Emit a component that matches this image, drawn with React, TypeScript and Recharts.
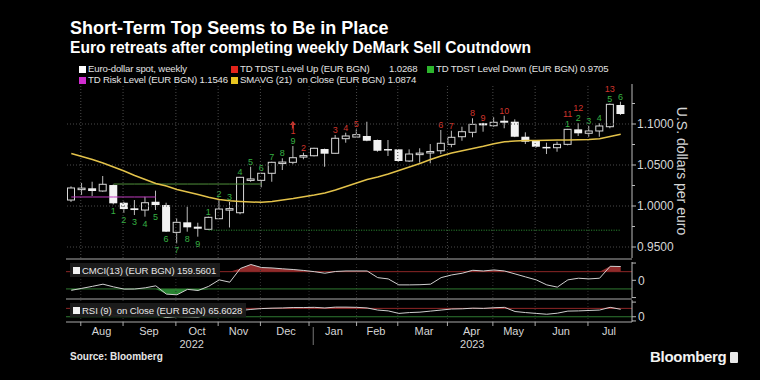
import {
  ComposedChart,
  Bar,
  Line,
  Area,
  XAxis,
  YAxis,
  ReferenceLine,
} from "recharts";

const FONT = '"Liberation Sans", Arial, sans-serif';
const TEXT = "#d6d6d6";
const GRID = "#4a4a4a";

// weekly EUR/USD candles, mid-Jul 2022 .. mid-Jul 2023
const OPEN = [
  1.0073, 1.0213, 1.0216, 1.0183, 1.0256, 1.004, 0.9972, 0.9951, 1.0052, 1.0012,
  0.9679, 0.9801, 0.9748, 0.9716, 0.9845, 0.996, 0.9918, 1.0326, 1.0313, 1.0399,
  1.053, 1.0533, 1.0609, 1.0613, 1.0695, 1.0643, 1.0821, 1.0841, 1.0854, 1.0805,
  1.0695, 1.0691, 1.0549, 1.064, 1.066, 1.0674, 1.0752, 1.0845, 1.0899, 1.1009,
  1.0979, 1.104, 1.1028, 1.0845, 1.0793, 1.0721, 1.0711, 1.0752, 1.0935, 1.0887,
  1.0915, 1.0967, 1.1232,
];
const HIGH = [
  1.024, 1.028, 1.0296, 1.0366, 1.0262, 1.0052, 1.0073, 1.0113, 1.0187, 1.004,
  0.985, 0.9991, 0.9796, 0.987, 1.0082, 1.0049, 1.0355, 1.0479, 1.0405, 1.054,
  1.0582, 1.0732, 1.065, 1.071, 1.07, 1.0866, 1.0894, 1.0935, 1.1028, 1.081,
  1.0805, 1.0695, 1.0691, 1.0704, 1.0756, 1.0927, 1.0918, 1.0967, 1.107, 1.1015,
  1.1082, 1.1101, 1.1057, 1.0899, 1.08, 1.0772, 1.0784, 1.094, 1.1009, 1.0976,
  1.1009, 1.125, 1.1272,
];
const LOW = [
  1.005, 1.0134, 1.0122, 1.0174, 1.002, 0.9915, 0.989, 0.987, 0.9951, 0.9683,
  0.9545, 0.9687, 0.9626, 0.971, 0.9841, 0.9738, 0.9899, 1.0296, 1.0228, 1.0296,
  1.0439, 1.0509, 1.057, 1.0605, 1.0479, 1.064, 1.0772, 1.0838, 1.079, 1.0662,
  1.061, 1.054, 1.0537, 1.0528, 1.0521, 1.0634, 1.0716, 1.0796, 1.0838, 1.0906,
  1.0967, 1.0948, 1.084, 1.0756, 1.071, 1.0634, 1.0662, 1.074, 1.0854, 1.0845,
  1.0845, 1.0948, 1.111,
];
const CLOSE = [
  1.022, 1.0218, 1.0183, 1.0265, 1.0033, 0.9963, 0.9951, 1.004, 1.0012, 0.9687,
  0.9801, 0.974, 0.9723, 0.9862, 0.9963, 0.9968, 1.035, 1.033, 1.0399, 1.0533,
  1.0536, 1.0589, 1.0615, 1.0704, 1.0638, 1.0826, 1.0854, 1.087, 1.0796, 1.0674,
  1.0685, 1.0549, 1.0634, 1.0645, 1.0665, 1.0765, 1.0838, 1.0906, 1.0996, 1.0984,
  1.1021, 1.1016, 1.0845, 1.0784, 1.0723, 1.0715, 1.0752, 1.0935, 1.0887, 1.0915,
  1.0976, 1.124, 1.1122,
];
const SMA21 = [
  1.064, 1.0604, 1.0567, 1.0524, 1.0476, 1.0427, 1.0372, 1.0323, 1.0274, 1.0244,
  1.0201, 1.0171, 1.014, 1.0106, 1.0079, 1.0063, 1.0055, 1.0049, 1.0045, 1.0055,
  1.0073, 1.0091, 1.0112, 1.0134, 1.0159, 1.0195, 1.0238, 1.028, 1.0323, 1.0354,
  1.039, 1.0433, 1.0476, 1.0518, 1.0567, 1.061, 1.0646, 1.0674, 1.0701, 1.0728,
  1.076, 1.0783, 1.0793, 1.0798, 1.08, 1.0802, 1.0805, 1.0806, 1.0809, 1.0811,
  1.0821, 1.0848, 1.0874,
];
const CMCI13 = [
  -116, -93, -70, -45, -76, -102, -101, -87, -64, -160, -168, -105, -118, -70, 5,
  -22, 137, 183, 148, 143, 133, 125, 114, 100, 82, 102, 108, 108, 108, 31, 16, -53,
  -53, -51, -45, 31, 62, 82, 116, 108, 120, 108, 74, 39, 5, -53, -79, 5, 24, 16, 24,
  162, 159.56,
];
const RSI9 = [
  44, 47, 46, 50, 38, 33, 32, 36, 38, 27, 31, 30, 29, 38, 46, 45, 60, 65, 69, 71, 72,
  74, 74, 75, 72, 76, 76, 75, 72, 62, 58, 46, 50, 52, 57, 62, 67, 68, 71, 70, 73, 75,
  55, 50, 46, 42, 47, 57, 58, 60, 62, 75, 65.6,
];

// TD Sequential counts: [candle index, count]
const BUY_SETUP: [number, number][] = [
  [4, 1], [5, 2], [6, 3], [7, 4], [8, 5], [9, 6], [10, 7], [11, 8], [12, 9],
];
const SELL_SETUP: [number, number][] = [
  [13, 1], [14, 2], [15, 3], [16, 4], [17, 5], [18, 6], [19, 7], [20, 8], [21, 9],
  [47, 1], [48, 2], [49, 3], [50, 4], [51, 5], [52, 6],
];
const COUNTDOWN: [number, number][] = [
  [21, 1], [22, 2], [25, 3], [26, 4], [27, 5], [35, 6], [36, 7], [38, 8], [39, 9],
  [41, 10], [47, 11], [48, 12], [51, 13],
];
const ARROW_AT = 21;

const RISK_LEVEL = { from: 0, to: 8, value: 1.011 };
const TDST_UP = { from: 4, to: 18, value: 1.0268 };
const TDST_DOWN = { from: 13, to: 52, value: 0.9705 };

const PRICE_TICKS = [0.95, 1.0, 1.05, 1.1];
const PRICE_MINOR = [0.975, 1.025, 1.075, 1.125];
const MONTH_LINES = [0.9, 4.9, 9.9, 13.9, 17.9, 22.5, 27, 30.9, 35.6, 39.9, 43.9, 48.9];
const MONTHS = ["Aug", "Sep", "Oct", "Nov", "Dec", "Jan", "Feb", "Mar", "Apr", "May", "Jun", "Jul"];
const MONTH_POS = [2.86, 7.35, 11.9, 15.83, 20.32, 24.86, 28.83, 33.38, 37.88, 41.86, 46.35, 50.89];
const YEARS = ["2022", "2023"];
const YEAR_POS = [11.4, 37.95];
const YEAR_BREAK = 22.9;

const X_DOMAIN = [-0.5, OPEN.length - 0.5];
const X_PAD = { left: 0, right: 6 };
const MARGIN_X = { left: 66, right: 28 };

function pick(pairs: [number, number][], i: number) {
  const f = pairs.find((p) => p[0] === i);
  return f ? f[1] : null;
}
function span(s: { from: number; to: number; value: number }, i: number) {
  return i >= s.from && i <= s.to ? s.value : null;
}

const rows = OPEN.map((o, i) => ({
  i,
  open: o,
  high: HIGH[i],
  low: LOW[i],
  close: CLOSE[i],
  range: [LOW[i], HIGH[i]],
  sma: SMA21[i],
  risk: span(RISK_LEVEL, i),
  tdstUp: span(TDST_UP, i),
  tdstDown: span(TDST_DOWN, i),
  buy: pick(BUY_SETUP, i),
  sell: pick(SELL_SETUP, i),
  count: pick(COUNTDOWN, i),
  arrow: i === ARROW_AT,
  cmci: CMCI13[i],
  rsi: RSI9[i],
}));

function Candle(props: any) {
  const { x, y, width, height, payload } = props;
  if (x == null || !payload) return null;
  const top = Math.min(y, y + height);
  const bottom = Math.max(y, y + height);
  const rng = payload.high - payload.low || 1e-6;
  const toY = (v: number) => top + ((payload.high - v) / rng) * (bottom - top);
  const cx = x + width / 2;
  const up = payload.close >= payload.open;
  const bTop = toY(Math.max(payload.open, payload.close));
  const bBot = toY(Math.min(payload.open, payload.close));
  const bh = Math.max(bBot - bTop, 1.5);
  const num = { fontSize: 9, fontFamily: FONT, textAnchor: "middle" as const };
  const redY = payload.sell != null ? top - 12 : top - 2;
  return (
    <g>
      <line x1={cx} x2={cx} y1={top} y2={bottom} stroke="#bdbdbd" strokeWidth={1} />
      {up ? (
        <rect x={cx - width / 2 + 0.5} y={bTop} width={width - 1} height={bh} fill="#000" stroke="#d8d8d8" strokeWidth={1} />
      ) : (
        <rect x={cx - width / 2} y={bTop} width={width} height={bh} fill="#f2f2f2" />
      )}
      {payload.buy != null && (
        <text x={cx} y={bottom + 10} fill="#36b043" {...num}>{payload.buy}</text>
      )}
      {payload.sell != null && (
        <text x={cx} y={top - 2} fill="#36b043" {...num}>{payload.sell}</text>
      )}
      {payload.count != null && (
        <text x={cx} y={redY} fill="#d0342c" {...num}>{payload.count}</text>
      )}
      {payload.arrow && (
        <path d={`M${cx - 3},${redY - 9} L${cx},${redY - 13} L${cx + 3},${redY - 9} Z M${cx - 1},${redY - 9} h2 v3 h-2 Z`} fill="#d0342c" />
      )}
    </g>
  );
}

function PriceTick({ x, y, payload }: any) {
  const major = PRICE_TICKS.includes(payload.value);
  return (
    <g>
      <line x1={x} x2={x + (major ? 4 : 3)} y1={y} y2={y} stroke="#bbb" />
      {major && (
        <text x={x + 5} y={y} dy="0.35em" fill={TEXT} fontSize={12} fontFamily={FONT}>
          {payload.value.toFixed(4)}
        </text>
      )}
    </g>
  );
}

function ZeroTick({ x, y, payload }: any) {
  const zero = payload.index === 1;
  return (
    <g>
      <line x1={x} x2={x + 4} y1={y} y2={y} stroke="#bbb" />
      {zero && (
        <text x={x + 6} y={y} dy="0.35em" fill={TEXT} fontSize={12} fontFamily={FONT}>
          0
        </text>
      )}
    </g>
  );
}

// one bottom axis carries month-start tick marks, month names, years and the year break
function TimeTick({ x, y, payload }: any) {
  const v = payload.value;
  const m = MONTH_POS.indexOf(v);
  const yr = YEAR_POS.indexOf(v);
  const style = { fill: TEXT, fontSize: 11, fontFamily: FONT, textAnchor: "middle" as const };
  if (m >= 0) return <text x={x} y={y + 13} {...style}>{MONTHS[m]}</text>;
  if (yr >= 0) return <text x={x} y={y + 26} {...style}>{YEARS[yr]}</text>;
  if (v === YEAR_BREAK) return <line x1={x} x2={x} y1={y + 5} y2={y + 23} stroke="#777" />;
  return <line x1={x} x2={x} y1={y} y2={y + 4} stroke="#aaa" />;
}

function gridLines(color = GRID) {
  return MONTH_LINES.map((v) => (
    <ReferenceLine key={`g${v}`} x={v} stroke={color} strokeDasharray="1 2" />
  ));
}

function PriceChart() {
  return (
    <ComposedChart width={760} height={260} data={rows} margin={{ top: 84, bottom: 2, ...MARGIN_X }}>
      <XAxis dataKey="i" hide padding={X_PAD} />
      <XAxis xAxisId="n" type="number" dataKey="i" domain={X_DOMAIN} hide padding={X_PAD} allowDataOverflow />
      <YAxis
        orientation="right"
        width={100}
        domain={[0.9366, 1.1488]}
        allowDataOverflow
        ticks={[...PRICE_TICKS, ...PRICE_MINOR].sort()}
        interval={0}
        tickSize={0}
        tickMargin={0}
        tickLine={false}
        tick={(p: any) => <PriceTick {...p} />}
        axisLine={{ stroke: "#bbb" }}
        label={{
          value: "U.S. dollars per euro",
          angle: 90,
          position: "center",
          fill: TEXT,
          fontSize: 14,
          fontFamily: FONT,
        }}
      />
      {MONTH_LINES.map((v) => (
        <ReferenceLine key={`g${v}`} xAxisId="n" x={v} stroke={GRID} strokeDasharray="1 2" />
      ))}
      {PRICE_TICKS.map((v) => (
        <ReferenceLine key={v} y={v} stroke={GRID} strokeDasharray="1 2" />
      ))}
      <Line dataKey="tdstDown" stroke="#2f9a35" strokeDasharray="1 1.5" dot={false} isAnimationActive={false} />
      <Line dataKey="risk" stroke="#c03cc0" dot={false} isAnimationActive={false} />
      <Line dataKey="tdstUp" stroke="#4f8f3a" dot={false} isAnimationActive={false} />
      <Bar dataKey="range" barSize={8} shape={(p: any) => <Candle {...p} />} isAnimationActive={false} />
      <Line dataKey="sma" stroke="#e3c24a" strokeWidth={1.5} dot={false} isAnimationActive={false} />
    </ComposedChart>
  );
}

function CmciChart() {
  return (
    <ComposedChart width={760} height={42} data={rows} margin={{ top: 4, bottom: 2, ...MARGIN_X }}>
      <XAxis type="number" dataKey="i" domain={X_DOMAIN} hide padding={X_PAD} allowDataOverflow />
      <YAxis
        orientation="right"
        width={100}
        domain={[-205, 212]}
        allowDataOverflow
        ticks={[-200, 0, 200]}
        interval={0}
        tickSize={0}
        tickMargin={0}
        tickLine={false}
        tick={(p: any) => <ZeroTick {...p} />}
        axisLine={{ stroke: "#bbb" }}
      />
      {gridLines("#333")}
      <ReferenceLine y={100} stroke="#8c2626" />
      <ReferenceLine y={-100} stroke="#2f7a32" />
      <Area dataKey={(d: any) => [100, Math.max(d.cmci, 100)]} type="linear" stroke="none" fill="#a83232" fillOpacity={0.85} isAnimationActive={false} />
      <Area dataKey={(d: any) => [Math.min(d.cmci, -100), -100]} type="linear" stroke="none" fill="#2f9a3a" fillOpacity={0.85} isAnimationActive={false} />
      <Line dataKey="cmci" stroke="#cfcfcf" strokeWidth={1} dot={false} isAnimationActive={false} />
    </ComposedChart>
  );
}

function RsiChart() {
  const timeTicks = [...MONTH_LINES, ...MONTH_POS, ...YEAR_POS, YEAR_BREAK].sort((a, b) => a - b);
  return (
    <ComposedChart width={760} height={60} data={rows} margin={{ top: 2, bottom: 0, ...MARGIN_X }}>
      <XAxis
        type="number"
        dataKey="i"
        domain={X_DOMAIN}
        padding={X_PAD}
        allowDataOverflow
        ticks={timeTicks}
        interval={0}
        height={36}
        tickSize={0}
        tickMargin={0}
        tickLine={false}
        axisLine={{ stroke: "#aaa" }}
        tick={(p: any) => <TimeTick {...p} />}
      />
      <YAxis
        orientation="right"
        width={100}
        domain={[5, 110]}
        allowDataOverflow
        ticks={[10, 30, 100]}
        interval={0}
        tickSize={0}
        tickMargin={0}
        tickLine={false}
        // the panel shows only a clipped "0" next to the 30 level
        tick={(p: any) => <ZeroTick {...p} />}
        axisLine={{ stroke: "#bbb" }}
      />
      {gridLines("#333")}
      <ReferenceLine y={70} stroke="#8c2626" />
      <ReferenceLine y={30} stroke="#2f7a32" />
      <Area dataKey={(d: any) => [70, Math.max(d.rsi, 70)]} type="linear" stroke="none" fill="#a83232" fillOpacity={0.85} isAnimationActive={false} />
      <Area dataKey={(d: any) => [Math.min(d.rsi, 30), 30]} type="linear" stroke="none" fill="#2f9a3a" fillOpacity={0.85} isAnimationActive={false} />
      <Line dataKey="rsi" stroke="#cfcfcf" strokeWidth={1} dot={false} isAnimationActive={false} />
    </ComposedChart>
  );
}

const KEY_TEXT = { fontSize: 9.6, letterSpacing: -0.15, lineHeight: "12px", color: "#e2e2e2" };

function Key({ color, label, left, top }: { color: string; label: string; left: number; top: number }) {
  return (
    <div style={{ position: "absolute", left, top, display: "flex", alignItems: "center", whiteSpace: "pre", ...KEY_TEXT }}>
      <span style={{ display: "inline-block", flexShrink: 0, width: 7, height: 7, background: color, marginRight: 2 }} />
      {label}
    </div>
  );
}

function PanelTag({ label, left, top }: { label: string; left: number; top: number }) {
  return (
    <div style={{ position: "absolute", left, top, height: 14, padding: "0 4px 0 3px", background: "rgba(28,28,28,0.95)", display: "flex", alignItems: "center", fontSize: 9.6, letterSpacing: -0.1, color: "#e6e6e6", whiteSpace: "pre" }}>
      <span style={{ display: "inline-block", flexShrink: 0, width: 7, height: 7, background: "#f2f2f2", marginRight: 2 }} />
      {label}
    </div>
  );
}

export default function App() {
  return (
    <div style={{ position: "absolute", left: 0, top: 0, width: 760, height: 380, background: "#000", overflow: "hidden", fontFamily: FONT, color: "#fff" }}>
      <div style={{ position: "absolute", left: 0, top: 0 }}>
        <PriceChart />
      </div>
      <div style={{ position: "absolute", left: 0, top: 258 }}>
        <CmciChart />
      </div>
      <div style={{ position: "absolute", left: 0, top: 298 }}>
        <RsiChart />
      </div>
      <div style={{ position: "absolute", left: 66, top: 258, width: 566, height: 2, background: "#555" }} />
      <div style={{ position: "absolute", left: 66, top: 298, width: 566, height: 2, background: "#555" }} />

      <div style={{ position: "absolute", left: 70, top: 16, fontSize: 18, fontWeight: 700, lineHeight: "24px" }}>
        Short-Term Top Seems to Be in Place
      </div>
      <div style={{ position: "absolute", left: 70, top: 38, fontSize: 15.6, fontWeight: 700, lineHeight: "19px" }}>
        Euro retreats after completing weekly DeMark Sell Coutndown
      </div>

      <Key color="#ffffff" label="Euro-dollar spot, weekly" left={79} top={63} />
      <Key color="#e3241b" label="TD TDST Level Up (EUR BGN)" left={231} top={63} />
      <div style={{ position: "absolute", left: 389, top: 63, ...KEY_TEXT }}>1.0268</div>
      <Key color="#2db52d" label="TD TDST Level Down (EUR BGN) 0.9705" left={427} top={63} />
      <Key color="#d02cd0" label="TD Risk Level (EUR BGN) 1.1546" left={79} top={74} />
      <Key color="#e8c520" label="SMAVG (21)  on Close (EUR BGN) 1.0874" left={231} top={74} />

      <PanelTag label="CMCI(13) (EUR BGN) 159.5601" left={70} top={263} />
      <PanelTag label="RSI (9)  on Close (EUR BGN) 65.6028" left={70} top={303} />

      <div style={{ position: "absolute", left: 70, top: 351, fontSize: 10, fontWeight: 700, lineHeight: "12px", color: "#e6e6e6" }}>
        Source: Bloomberg
      </div>
      <div style={{ position: "absolute", left: 650, top: 347, display: "flex", alignItems: "center", fontSize: 15, fontWeight: 600, lineHeight: "20px", color: "#f2f2f2", letterSpacing: -0.3 }}>
        Bloomberg
        <span style={{ display: "inline-block", width: 8, height: 11, background: "#e8e8e8", borderRadius: 1, marginLeft: 4 }} />
      </div>
    </div>
  );
}
